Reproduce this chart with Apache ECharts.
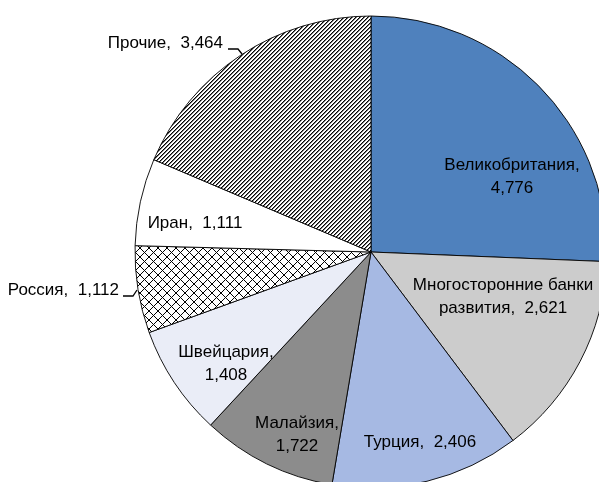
<!DOCTYPE html>
<html>
<head>
<meta charset="utf-8">
<script src="https://cdn.jsdelivr.net/npm/echarts@6/dist/echarts.min.js"></script>
<style>
html,body{margin:0;padding:0;background:#fff;}
#chart{width:599px;height:482px;}
</style>
</head>
<body>
<div id="chart"></div>
<script>
// ---- data ----
const categories = ['Великобритания', 'Многосторонние банки\nразвития', 'Турция', 'Малайзия', 'Швейцария', 'Россия', 'Иран', 'Прочие'];
const values = [4776, 2621, 2406, 1722, 1408, 1112, 1111, 3464];
const labelSeparators = [',\n', ',  ', ',  ', ',\n', ',\n', ',  ', ',  ', ',  '];

// ---- layout (label anchors, not data) ----
const labelAnchors = [
  {x: 512, y: 177, align: 'center'},
  {x: 503, y: 297, align: 'center'},
  {x: 420, y: 442, align: 'center'},
  {x: 297, y: 435, align: 'center'},
  {x: 226, y: 364, align: 'center'},
  {x: 119, y: 290, align: 'right', line: [[137, 290], [133, 296], [123, 296]]},
  {x: 195, y: 223, align: 'center'},
  {x: 223, y: 43, align: 'right', line: [[242, 54], [238, 49], [228, 49]]}
];

function makePattern(kind) {
  const c = document.createElement('canvas');
  const n = kind === 'hatch' ? 4 : 9;
  c.width = n; c.height = n;
  const ctx = c.getContext('2d');
  ctx.fillStyle = '#ffffff';
  ctx.fillRect(0, 0, n, n);
  for (let x = 0; x < n; x++) {
    for (let y = 0; y < n; y++) {
      if (kind === 'hatch') {
        const k = (x + y) % n;
        if (k === 0) { ctx.fillStyle = '#000000'; ctx.fillRect(x, y, 1, 1); }
        else if (k === 1) { ctx.fillStyle = '#777777'; ctx.fillRect(x, y, 1, 1); }
      } else {
        if ((x + y) % n === 0 || ((x - y) % n + n) % n === 0) { ctx.fillStyle = '#000000'; ctx.fillRect(x, y, 1, 1); }
      }
    }
  }
  return {image: c, repeat: 'repeat'};
}

const colors = ['#4F81BD', '#CCCCCC', '#A6B9E3', '#8C8C8C', '#EAEDF7', makePattern('cross'), '#FFFFFF', makePattern('hatch')];

function fmt(v) { return v.toString().replace(/\B(?=(\d{3})+(?!\d))/g, ','); }

const data = categories.map((name, i) => {
  const outside = !!labelAnchors[i].line;
  return {
    name: name,
    value: values[i],
    itemStyle: {color: colors[i]},
    label: {position: outside ? 'outside' : 'inside'},
    labelLine: {show: outside, lineStyle: {color: '#000', width: 1.3}}
  };
});

const chart = echarts.init(document.getElementById('chart'), null, {renderer: 'canvas'});
chart.setOption({
  animation: false,
  backgroundColor: '#ffffff',
  series: [{
    type: 'pie',
    center: [371, 252],
    radius: 236,
    startAngle: 90,
    clockwise: true,
    avoidLabelOverlap: false,
    itemStyle: {borderColor: '#000', borderWidth: 0.9},
    emphasis: {disabled: true},
    label: {
      show: true,
      color: '#000',
      fontFamily: 'Liberation Sans, Arial, sans-serif',
      fontSize: 17,
      lineHeight: 23,
      align: 'center',
      formatter: p => p.name + labelSeparators[p.dataIndex] + fmt(p.value)
    },
    labelLayout: function (params) {
      const a = labelAnchors[params.dataIndex];
      const r = {x: a.x, y: a.y, align: a.align, verticalAlign: 'middle'};
      if (a.line) r.labelLinePoints = a.line;
      return r;
    },
    data: data
  }]
});
</script>
</body>
</html>
